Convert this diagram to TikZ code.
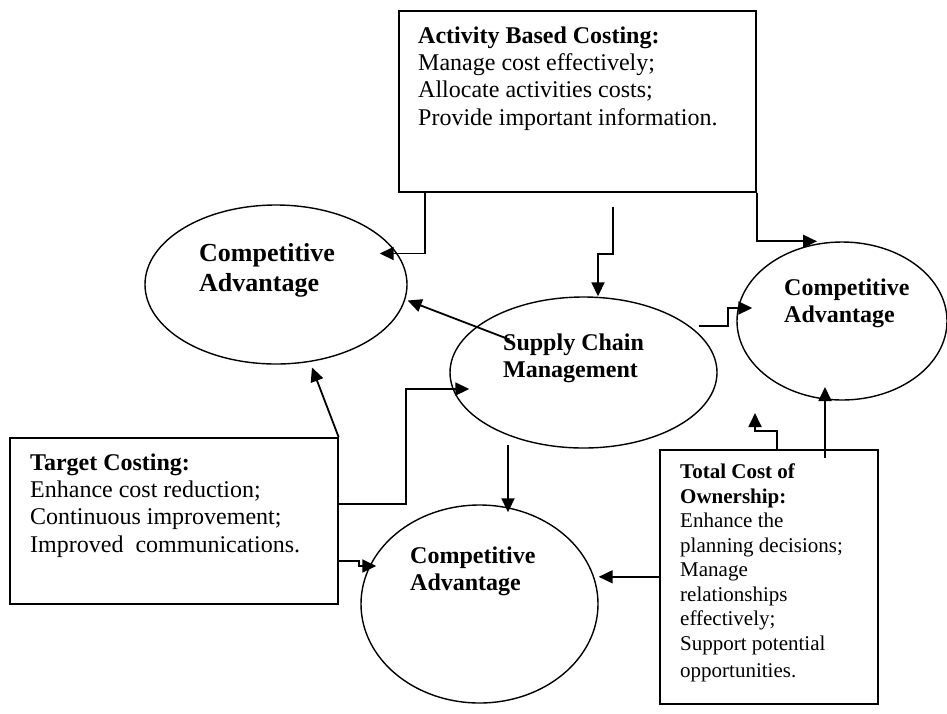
\documentclass[tikz,border=0pt]{standalone}
\usepackage{fontspec}
\setmainfont{Liberation Serif}
\usetikzlibrary{shapes.geometric,arrows.meta}
\tikzset{
  advantage/.style={ellipse, draw, line width=1.4pt, inner sep=0pt},
  costbox/.style={rectangle, draw, line width=1.6pt, inner sep=0pt, anchor=north west},
  boxtext/.style={anchor=north west, inner sep=0pt, align=left, font=\fontsize{24}{27.3}\selectfont},
  advtext/.style={boxtext, font=\bfseries\fontsize{24}{27}\selectfont},
  link/.style={->, line width=1.8pt},
}

\begin{document}
\begin{tikzpicture}[>={Triangle[length=14pt,width=13pt]}, x=1pt, y=-1pt]
	\useasboundingbox (0,0) rectangle (947,713);

	% Draw the three cost boxes
	\node[costbox, minimum width=357pt, minimum height=181pt] (abc) at (398,10) {};
	\node[costbox, minimum width=328pt, minimum height=166pt] (tc) at (9,437) {};
	\node[costbox, minimum width=218pt, minimum height=254pt] (tco) at (659,449) {};

	% Draw the ellipses
	\node[advantage, minimum width=262pt, minimum height=159pt] (caL) at (276,284.5) {};
	\node[advantage, minimum width=267pt, minimum height=151pt] (scm) at (583.5,372.5) {};
	\node[advantage, minimum width=210pt, minimum height=158pt] (caR) at (842,321) {};
	\node[advantage, minimum width=237pt, minimum height=198pt] (caB) at (479.5,604) {};

	% Put the texts
	\node[boxtext] (abcTxt) at (418,26.5) {\textbf{Activity Based Costing:}\\Manage cost effectively;\\Allocate activities costs;\\Provide important information.};
	\node[boxtext] (tcTxt) at (30,453.5) {\textbf{Target Costing:}\\Enhance cost reduction;\\Continuous improvement;\\Improved\ \ communications.};
	\node[boxtext, font=\fontsize{21}{24.5}\selectfont] (tcoTxt) at (680,463.5) {\textbf{Total Cost of}\\\textbf{Ownership:}\\Enhance the\\planning decisions;\\Manage\\relationships\\effectively;\\Support potential\\[2.5pt]opportunities.};
	\node[advtext, font=\bfseries\fontsize{26}{30}\selectfont] (caLTxt) at (199,243) {Competitive\\Advantage};
	\node[advtext] (scmTxt) at (503,333.5) {Supply Chain\\Management};
	\node[advtext] (caRTxt) at (784,278.5) {Competitive\\Advantage};
	\node[advtext] (caBTxt) at (410,546.5) {Competitive\\Advantage};

	% Links from Activity Based Costing
	\draw[link] ([xshift=27pt]abc.south west) |- ([shift={(-28,-31)}]caL.east);
	\draw[link] ([shift={(215,14)}]abc.south west) -- ++(0,47) -| ([xshift=14.5pt]scm.north);
	\draw[link] (abc.south east) |- ([xshift=-25pt]caR.north);

	% Links from Supply Chain Management
	\draw[link] ([shift={(-74,-33)}]scm.center) -- ([yshift=-16pt]caL.east);
	\draw[link] ([shift={(115.5,-46.5)}]scm.center) -- ++(29,0) |- ([shift={(16,-13)}]caR.west);
	\draw[link] ([shift={(-75.5,72.5)}]scm.center) -- ([shift={(28.5,8)}]caB.north);

	% Links from Target Costing
	\draw[link] (tc.north east) -- ([shift={(36,83)}]caL.center);
	\draw[link] ([yshift=-67pt]tc.north east) -- ++(67,0) |- ([shift={(20,16.5)}]scm.west);
	\draw[link] ([yshift=-124pt]tc.north east) -- ++(20,0) -- ++(0,5) -- ([shift={(16,-38)}]caB.west);

	% Links from Total Cost of Ownership
	\draw[link] (tco.west) -- (tco.west -| caB.east);
	\draw[link] ([shift={(166,9)}]tco.north west) -- ([shift={(-17,66)}]caR.center);
	\coordinate (tcoEnd) at (755,413);
	\draw[link] ([xshift=8pt]tco.north) -- ++(0,-18) -| (tcoEnd);
\end{tikzpicture}
\end{document}
